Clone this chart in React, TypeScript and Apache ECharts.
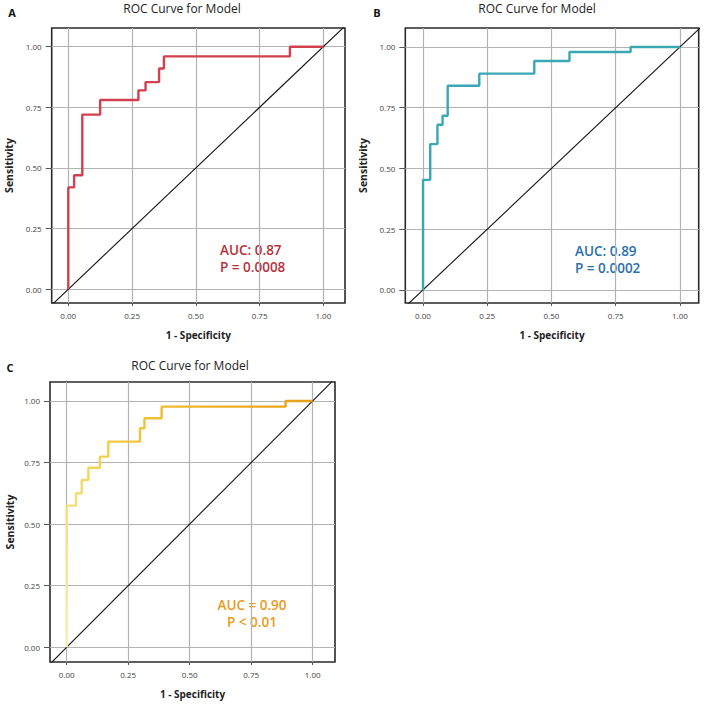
import React, { useEffect, useRef } from "react";
import * as echarts from "echarts";

// ---- data ----
const tickValues = [0, 0.25, 0.5, 0.75, 1];

const fprA = [0, 0, 0.023, 0.023, 0.055, 0.055, 0.125, 0.125, 0.275, 0.275, 0.303, 0.303, 0.356, 0.356, 0.375, 0.375, 0.869, 0.869, 1.0];
const tprA = [0, 0.42, 0.42, 0.47, 0.47, 0.72, 0.72, 0.78, 0.78, 0.82, 0.82, 0.854, 0.854, 0.91, 0.91, 0.96, 0.96, 1.0, 1.0];

const fprB = [0, 0, 0.028, 0.028, 0.056, 0.056, 0.076, 0.076, 0.096, 0.096, 0.219, 0.219, 0.433, 0.433, 0.57, 0.57, 0.808, 0.808, 1.0];
const tprB = [0, 0.453, 0.453, 0.6, 0.6, 0.68, 0.68, 0.717, 0.717, 0.84, 0.84, 0.89, 0.89, 0.942, 0.942, 0.979, 0.979, 1.0, 1.0];

const fprC = [0, 0, 0.038, 0.038, 0.061, 0.061, 0.088, 0.088, 0.135, 0.135, 0.169, 0.169, 0.298, 0.298, 0.316, 0.316, 0.386, 0.386, 0.89, 0.89, 1.0];
const tprC = [0, 0.575, 0.575, 0.625, 0.625, 0.679, 0.679, 0.729, 0.729, 0.774, 0.774, 0.835, 0.835, 0.889, 0.889, 0.93, 0.93, 0.977, 0.977, 1.0, 1.0];

const chanceLine = [-0.2, 1.2];

const panelLabels = ["A", "B", "C"];
const panelTitle = "ROC Curve for Model";
const xName = "1 - Specificity";
const yName = "Sensitivity";
const aucTexts = [
  ["AUC: 0.87", "P = 0.0008"],
  ["AUC: 0.89", "P = 0.0002"],
  ["AUC = 0.90", "P < 0.01"],
];

const FONT = "'Open Sans', 'Noto Sans', sans-serif";

export default function App() {
  const ref = useRef<HTMLDivElement>(null);

  useEffect(() => {
    const chart = echarts.init(ref.current!, null, { renderer: "svg" });

    const panels = [
      { grid: { left: 51.7, top: 28, width: 293.3, height: 275 }, x: [-0.065, 1.085], y: [-0.0565, 1.077], yGap: 37, xGap: 27,
        fpr: fprA, tpr: tprA, color: "#d2404f" as any },
      { grid: { left: 405.3, top: 28, width: 293.4, height: 275 }, x: [-0.069, 1.073], y: [-0.054, 1.078], yGap: 37, xGap: 27,
        fpr: fprB, tpr: tprB, color: "#3aa8b4" as any },
      { grid: { left: 50, top: 382, width: 285, height: 280 }, x: [-0.068, 1.091], y: [-0.06, 1.077], yGap: 35, xGap: 27,
        fpr: fprC, tpr: tprC,
        color: new echarts.graphic.LinearGradient(0, 1, 1, 0, [
          { offset: 0, color: "#f7efb2" },
          { offset: 0.3, color: "#f4df78" },
          { offset: 0.5, color: "#f1cc45" },
          { offset: 0.7, color: "#efba2b" },
          { offset: 1, color: "#e79f14" },
        ]) as any },
    ];

    const grids: any[] = [];
    const xAxes: any[] = [];
    const yAxes: any[] = [];
    const series: any[] = [];

    panels.forEach((p, i) => {
      grids.push({ ...p.grid, show: true, borderColor: "#2a2a2a", borderWidth: 1.6, backgroundColor: "transparent", containLabel: false });
      xAxes.push({
        type: "value", gridIndex: i, min: p.x[0], max: p.x[1],
        axisLine: { show: false, onZero: false },
        splitLine: { show: false },
        axisTick: { show: true, customValues: tickValues, length: 3, lineStyle: { color: "#555" } },
        axisLabel: { customValues: tickValues, formatter: (v: number) => v.toFixed(2), fontSize: 8, color: "#444", margin: 8, fontFamily: FONT },
        name: xName, nameLocation: "middle", nameGap: p.xGap,
        nameTextStyle: { fontWeight: "bold", fontSize: 10, color: "#222", fontFamily: FONT },
      });
      yAxes.push({
        type: "value", gridIndex: i, min: p.y[0], max: p.y[1],
        axisLine: { show: false, onZero: false },
        splitLine: { show: false },
        axisTick: { show: true, customValues: tickValues, length: 6, lineStyle: { color: "#555" } },
        axisLabel: { customValues: tickValues, formatter: (v: number) => v.toFixed(2), fontSize: 8, color: "#444", margin: 10, fontFamily: FONT },
        name: yName, nameLocation: "middle", nameGap: p.yGap,
        nameTextStyle: { fontWeight: "bold", fontSize: 10.5, color: "#222", fontFamily: FONT },
      });
      series.push({
        type: "line", xAxisIndex: i, yAxisIndex: i, z: 2,
        data: chanceLine.map((v) => [v, v]),
        symbol: "none", clip: true, silent: true,
        lineStyle: { color: "#111", width: 1.1 },
        markLine: {
          silent: true, symbol: "none", z: 1, label: { show: false },
          lineStyle: { color: "#b3b3b3", width: 1.2, type: "solid" },
          data: [
            ...tickValues.map((v) => ({ xAxis: v })),
            ...tickValues.map((v) => ({ yAxis: v })),
          ],
        },
      });
      series.push({
        type: "line", xAxisIndex: i, yAxisIndex: i, z: 3,
        data: p.fpr.map((f, k) => [f, p.tpr[k]]),
        symbol: "none", clip: true, silent: true,
        lineStyle: { color: p.color, width: 2.4 },
      });
    });

    const aucStyle = (text: string[], fill: string, align: string) => ({
      text: text.join("\n"), fontSize: 13.5, fontWeight: 600, lineHeight: 17, fill,
      textAlign: align, textVerticalAlign: "top", fontFamily: FONT,
    });

    const graphics: any[] = [
      { type: "text", x: 182, y: 8, style: { text: panelTitle, fontSize: 12, fill: "#222", textAlign: "center", textVerticalAlign: "middle", fontFamily: FONT } },
      { type: "text", x: 537, y: 8, style: { text: panelTitle, fontSize: 12, fill: "#222", textAlign: "center", textVerticalAlign: "middle", fontFamily: FONT } },
      { type: "text", x: 190, y: 365, style: { text: panelTitle, fontSize: 12, fill: "#222", textAlign: "center", textVerticalAlign: "middle", fontFamily: FONT } },
      { type: "text", x: 12, y: 12, style: { text: panelLabels[0], fontSize: 11, fontWeight: "bold", fill: "#111", textAlign: "center", textVerticalAlign: "middle", fontFamily: FONT } },
      { type: "text", x: 377, y: 12, style: { text: panelLabels[1], fontSize: 11, fontWeight: "bold", fill: "#111", textAlign: "center", textVerticalAlign: "middle", fontFamily: FONT } },
      { type: "text", x: 10, y: 367, style: { text: panelLabels[2], fontSize: 11, fontWeight: "bold", fill: "#111", textAlign: "center", textVerticalAlign: "middle", fontFamily: FONT } },
      { type: "text", x: 220, y: 241.5, style: aucStyle(aucTexts[0], "#b8303a", "left") },
      { type: "text", x: 575, y: 242.5, style: aucStyle(aucTexts[1], "#2c6fab", "left") },
      { type: "text", x: 252, y: 596.5, style: aucStyle(aucTexts[2], "#e89b1c", "center") },
    ];

    chart.setOption({
      animation: false,
      backgroundColor: "#fff",
      textStyle: { fontFamily: FONT },
      grid: grids,
      xAxis: xAxes,
      yAxis: yAxes,
      series,
      graphic: graphics,
    });

    return () => chart.dispose();
  }, []);

  return (
    <div
      ref={ref}
      style={{ position: "fixed", left: 0, top: 0, width: 704, height: 704, background: "#fff" }}
    />
  );
}
